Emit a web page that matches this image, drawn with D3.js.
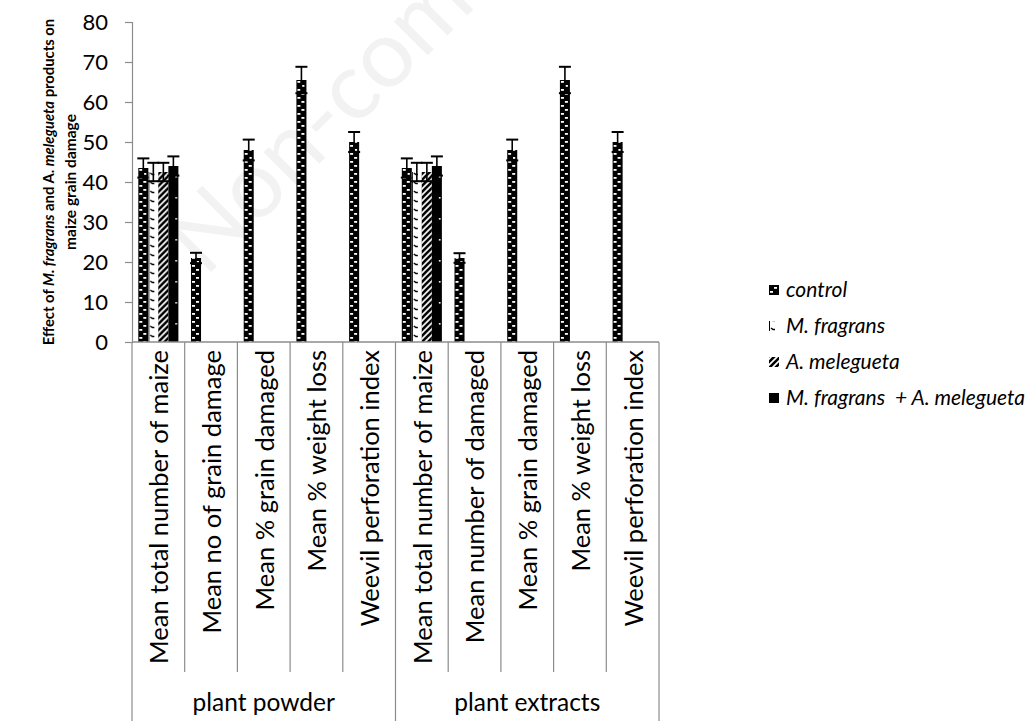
<!DOCTYPE html>
<html>
<head>
<meta charset="utf-8">
<script src="https://cdn.jsdelivr.net/npm/d3@7"></script>
<style>
  body { margin: 0; background: #fff; }
  svg { font-family: Lato, "Open Sans", sans-serif; }
</style>
</head>
<body>
<svg class="chart" width="1035" height="721"></svg>
<script>
// chart data
const groups = ["plant powder", "plant extracts"];
const categories = [
    "Mean total number of maize", "Mean no of grain damage", "Mean % grain damaged",
    "Mean % weight loss", "Weevil perforation index",
    "Mean total number of maize", "Mean number of damaged", "Mean % grain damaged",
    "Mean % weight loss", "Weevil perforation index"
];
const seriesNames = ["control", "M. fragrans", "A. melegueta", "M. fragrans  + A. melegueta"];
const control = [43.5, 21, 48, 65.5, 50, 43.5, 21, 48, 65.5, 50];
const fragrans = [42.5, 0, 0, 0, 0, 42.5, 0, 0, 0, 0];
const melegueta = [42.5, 0, 0, 0, 0, 42.5, 0, 0, 0, 0];
const combo = [44, 0, 0, 0, 0, 44, 0, 0, 0, 0];
const controlErr = [2.4, 1.3, 2.6, 3.3, 2.5, 2.4, 1.2, 2.6, 3.3, 2.5];
const fragransErr = [2.3, 0, 0, 0, 0, 2.3, 0, 0, 0, 0];
const meleguetaErr = [2.3, 0, 0, 0, 0, 2.3, 0, 0, 0, 0];
const comboErr = [2.4, 0, 0, 0, 0, 2.4, 0, 0, 0, 0];
const yTicks = [0, 10, 20, 30, 40, 50, 60, 70, 80];

const values = [control, fragrans, melegueta, combo];
const errors = [controlErr, fragransErr, meleguetaErr, comboErr];
const patternIds = ["pControl", "pFragrans", "pMelegueta", "pCombo"];

const svg = d3.select(".chart");
const plotLeft = 132, plotRight = 659, plotTop = 22, plotBottom = 342;
const axisColor = "#8c8c8c";

// faint watermark (cut by the top edge, as in the source)
svg.append("text")
    .attr("transform", "translate(205,278) rotate(-45)")
    .style("font-size", "94px")
    .style("fill", "#f2f2f2")
    .text("Non-com");

// patterns
const defs = svg.append("defs");

const pc = defs.append("pattern").attr("id", "pControl")
    .attr("patternUnits", "userSpaceOnUse").attr("width", 10).attr("height", 8);
pc.append("rect").attr("width", 10).attr("height", 8).attr("fill", "#000");
pc.append("rect").attr("x", 1).attr("y", 1).attr("width", 3).attr("height", 1.8).attr("fill", "#fff");
pc.append("rect").attr("x", 5).attr("y", 5).attr("width", 3).attr("height", 1.8).attr("fill", "#fff");

const pf = defs.append("pattern").attr("id", "pFragrans")
    .attr("patternUnits", "userSpaceOnUse").attr("width", 10).attr("height", 9);
pf.append("rect").attr("width", 10).attr("height", 9).attr("fill", "#fff");
pf.append("path").attr("d", "M2,2 L4,3.5 L6,3.5").attr("stroke", "#000").attr("stroke-width", 1.4).attr("fill", "none");
pf.append("rect").attr("x", 0).attr("y", 0).attr("width", 1).attr("height", 9).attr("fill", "#000");

const pm = defs.append("pattern").attr("id", "pMelegueta")
    .attr("patternUnits", "userSpaceOnUse").attr("width", 6).attr("height", 6);
pm.append("rect").attr("width", 6).attr("height", 6).attr("fill", "#fff");
pm.append("path").attr("d", "M-1,7 L7,-1 M-4,4 L4,-4 M2,10 L10,2")
    .attr("stroke", "#000").attr("stroke-width", 2.6);

const pb = defs.append("pattern").attr("id", "pCombo")
    .attr("patternUnits", "userSpaceOnUse").attr("width", 12).attr("height", 21);
pb.append("rect").attr("width", 12).attr("height", 21).attr("fill", "#000");
pb.append("rect").attr("x", 7).attr("y", 8).attr("width", 1.6).attr("height", 1.6).attr("fill", "#fff");

// scales
const x0 = d3.scaleBand().domain(d3.range(categories.length)).range([plotLeft, plotRight]).paddingInner(0).paddingOuter(0);
const x1 = d3.scaleBand().domain(d3.range(seriesNames.length)).range([0, x0.bandwidth()]).paddingInner(0).paddingOuter(0.63);
const y = d3.scaleLinear().domain([0, 80]).range([plotBottom, plotTop]);

// y axis
const yAxis = svg.append("g")
    .attr("transform", `translate(${plotLeft},0)`)
    .call(d3.axisLeft(y).tickValues(yTicks).tickSize(7).tickPadding(17));
yAxis.selectAll("path, line").attr("stroke", axisColor).attr("stroke-width", 1.2);
yAxis.selectAll("text").style("font-size", "22px").style("fill", "#000").style("font-family", "Lato, sans-serif");

// bars
const barData = [];
values.forEach((vals, s) => vals.forEach((v, c) => barData.push({ s, c, v, e: errors[s][c] })));

const barG = svg.append("g");
const bars = barG.selectAll("g.bar").data(barData.filter(d => d.v > 0)).join("g")
    .attr("class", "bar")
    .attr("transform", d => `translate(${x0(d.c) + x1(d.s)},0)`);
bars.append("rect")
    .attr("x", 0)
    .attr("y", d => y(d.v))
    .attr("width", x1.bandwidth())
    .attr("height", d => y(0) - y(d.v))
    .attr("fill", d => `url(#${patternIds[d.s]})`);

// error bars
const eg = bars.append("g").attr("transform", d => `translate(${x1.bandwidth() / 2},0)`);
eg.append("line")
    .attr("y1", d => y(d.v - d.e)).attr("y2", d => y(d.v + d.e))
    .attr("stroke", "#000").attr("stroke-width", 1.6);
eg.append("line")
    .attr("x1", -6).attr("x2", 6)
    .attr("y1", d => y(d.v + d.e)).attr("y2", d => y(d.v + d.e))
    .attr("stroke", "#000").attr("stroke-width", 2);
eg.append("line")
    .attr("x1", -6).attr("x2", 6)
    .attr("y1", d => y(d.v - d.e)).attr("y2", d => y(d.v - d.e))
    .attr("stroke", "#000").attr("stroke-width", 2);

// x axis table
const catBottom = 672, tableBottom = 721;
svg.append("line").attr("x1", plotLeft).attr("x2", plotRight).attr("y1", plotBottom).attr("y2", plotBottom)
    .attr("stroke", axisColor).attr("stroke-width", 1.5);
categories.forEach((c, i) => {
    const xs = x0(i);
    const isGroupEdge = i % 5 === 0;
    svg.append("line").attr("x1", xs).attr("x2", xs).attr("y1", plotBottom)
        .attr("y2", isGroupEdge ? tableBottom : catBottom)
        .attr("stroke", axisColor).attr("stroke-width", 1.2);
    svg.append("text")
        .attr("transform", `translate(${xs + x0.bandwidth() / 2 + 1},${plotBottom + 8}) rotate(-90)`)
        .attr("text-anchor", "end")
        .attr("dy", "0.35em")
        .style("font-size", "25.5px")
        .text(c);
});
svg.append("line").attr("x1", plotRight).attr("x2", plotRight).attr("y1", plotBottom).attr("y2", tableBottom)
    .attr("stroke", axisColor).attr("stroke-width", 1.2);

groups.forEach((g, i) => {
    const gx = x0(i * 5) + x0.bandwidth() * 2.5;
    svg.append("text")
        .attr("x", gx).attr("y", 711)
        .attr("text-anchor", "middle")
        .style("font-size", "24.5px")
        .text(g);
});

// y axis title, two lines
const titleMid = -182;
const line1 = svg.append("text")
    .attr("transform", "rotate(-90)")
    .attr("x", titleMid).attr("y", 54)
    .attr("text-anchor", "middle")
    .style("font-size", "14.8px")
    .style("font-weight", "bold");
line1.append("tspan").text("Effect of ");
line1.append("tspan").style("font-style", "italic").text("M. fragrans");
line1.append("tspan").text(" and A. ");
line1.append("tspan").style("font-style", "italic").text("melegueta");
line1.append("tspan").text(" products on");
svg.append("text")
    .attr("transform", "rotate(-90)")
    .attr("x", titleMid).attr("y", 76)
    .attr("text-anchor", "middle")
    .style("font-size", "15.5px")
    .style("font-weight", "bold")
    .text("maize grain damage");

// legend
const legend = svg.append("g").attr("transform", "translate(769,290)");
seriesNames.forEach((name, i) => {
    const row = legend.append("g").attr("transform", `translate(0,${i * 36})`);
    row.append("rect").attr("x", 0).attr("y", -5).attr("width", 10).attr("height", 10)
        .attr("fill", `url(#${patternIds[i]})`);
    row.append("text").attr("x", 17).attr("y", 0)
        .attr("dy", "0.35em")
        .style("font-size", "21px").style("font-style", "italic")
        .style("white-space", "pre")
        .text(name);
});
</script>
</body>
</html>
